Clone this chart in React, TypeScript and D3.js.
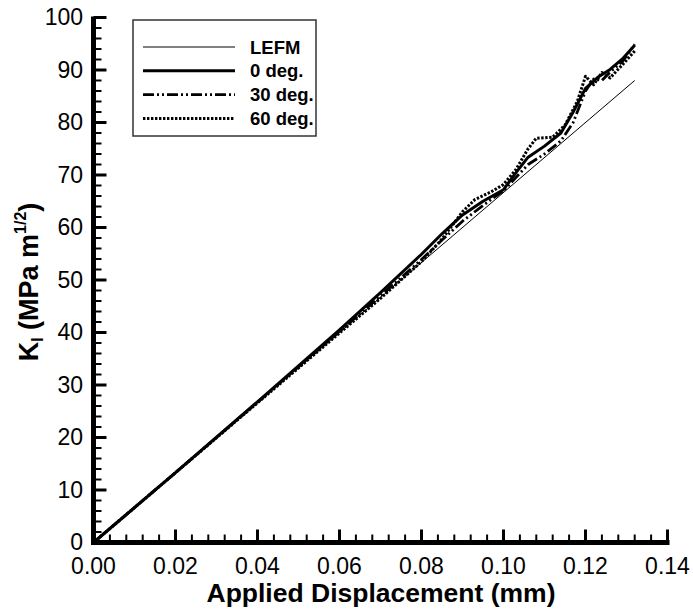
import React from "react";
import * as d3 from "d3";

const W = 693;
const H = 613;

const xTicks = [0, 0.02, 0.04, 0.06, 0.08, 0.1, 0.12, 0.14];
const xTickLabels = ["0.00", "0.02", "0.04", "0.06", "0.08", "0.10", "0.12", "0.14"];
const yTicks = [0, 10, 20, 30, 40, 50, 60, 70, 80, 90, 100];

const lefm: [number, number][] = [
  [0, 0],
  [0.132, 88],
];

const deg0: [number, number][] = [
  [0, 0], [0.02, 13.3], [0.04, 26.8], [0.06, 40.5], [0.07, 47.6], [0.08, 54.9],
  [0.085, 58.8], [0.09, 62.4], [0.095, 65], [0.1, 67.2], [0.103, 70.4],
  [0.106, 73.4], [0.11, 75.5], [0.114, 78], [0.117, 82], [0.12, 86.5],
  [0.123, 88.6], [0.126, 90.1], [0.129, 92.1], [0.132, 94.7],
];

const deg30: [number, number][] = [
  [0, 0], [0.02, 13.3], [0.04, 26.7], [0.06, 40.2], [0.07, 47], [0.08, 53.9],
  [0.085, 57.6], [0.09, 61.2], [0.095, 64.2], [0.1, 67], [0.103, 69.5],
  [0.106, 72], [0.11, 74], [0.114, 76.5], [0.117, 80], [0.12, 86],
  [0.122, 88.3], [0.124, 88], [0.126, 89.6], [0.129, 91.6], [0.132, 94.9],
];

const deg60: [number, number][] = [
  [0, 0], [0.02, 13.3], [0.04, 26.6], [0.06, 39.9], [0.07, 46.5], [0.08, 53.5],
  [0.085, 57.8], [0.09, 63], [0.093, 65.3], [0.097, 66.8], [0.1, 68.2],
  [0.103, 71], [0.106, 75], [0.108, 77], [0.112, 77.2], [0.115, 79.5],
  [0.118, 84], [0.12, 88.8], [0.122, 87.2], [0.124, 89.5], [0.126, 88.5],
  [0.129, 91], [0.132, 93.6],
];

const legendLabels = ["LEFM", "0 deg.", "30 deg.", "60 deg."];

const FONT = "Liberation Sans, Arial, Helvetica, sans-serif";

export default function App() {
  const x = d3.scaleLinear().domain([0, 0.14]).range([93.5, 667.5]);
  const y = d3.scaleLinear().domain([0, 100]).range([542.5, 17.5]);
  const line = d3
    .line<[number, number]>()
    .x((d) => x(d[0]))
    .y((d) => y(d[1]));

  const xMinor = d3.range(0, 0.1401, 0.004).filter((v) => Math.abs(v / 0.02 - Math.round(v / 0.02)) > 1e-6);
  const yMinor = d3.range(0, 100.01, 2).filter((v) => v % 10 !== 0);

  const series = [
    { data: lefm, width: 1, dash: undefined as string | undefined },
    { data: deg0, width: 3, dash: undefined },
    { data: deg30, width: 2.8, dash: "11,3,2,3,2,3" },
    { data: deg60, width: 3, dash: "2.4,1.6" },
  ];

  const legX1 = 143;
  const legX2 = 235;
  const legRow0 = 47;
  const legStep = 23.8;

  return (
    <svg
      width={W}
      height={H}
      style={{ position: "absolute", left: 0, top: 0, background: "#fff" }}
      fontFamily={FONT}
    >
      <rect x={0} y={0} width={W} height={H} fill="#fff" />

      {/* data lines */}
      {series.map((s, i) => (
        <path
          key={i}
          d={line(s.data) || ""}
          fill="none"
          stroke="#000"
          strokeWidth={s.width}
          strokeDasharray={s.dash}
          strokeLinejoin="round"
        />
      ))}

      {/* minor ticks */}
      {xMinor.map((v, i) => (
        <line key={"xm" + i} x1={x(v)} x2={x(v)} y1={y(0)} y2={y(0) - 8} stroke="#000" strokeWidth={2} />
      ))}
      {yMinor.map((v, i) => (
        <line key={"ym" + i} x1={x(0)} x2={x(0) + 8} y1={y(v)} y2={y(v)} stroke="#000" strokeWidth={2} />
      ))}
      {/* major ticks */}
      {xTicks.map((v, i) => (
        <line key={"xM" + i} x1={x(v)} x2={x(v)} y1={y(0)} y2={y(0) - 13} stroke="#000" strokeWidth={3} />
      ))}
      {yTicks.map((v, i) => (
        <line key={"yM" + i} x1={x(0)} x2={x(0) + 13} y1={y(v)} y2={y(v)} stroke="#000" strokeWidth={3} />
      ))}

      {/* axes */}
      <line x1={x(0)} x2={x(0.14) + 2} y1={y(0)} y2={y(0)} stroke="#000" strokeWidth={5} />
      <line x1={x(0)} x2={x(0)} y1={y(0) + 2.5} y2={y(100) - 1} stroke="#000" strokeWidth={5} />

      {/* tick labels */}
      {xTicks.map((v, i) => (
        <text key={"xl" + i} x={x(v)} y={574} fontSize={23} textAnchor="middle" fill="#000">
          {xTickLabels[i]}
        </text>
      ))}
      {yTicks.map((v, i) => (
        <text key={"yl" + i} x={83} y={y(v) + 7.5} fontSize={23} textAnchor="end" fill="#000">
          {v}
        </text>
      ))}

      {/* axis titles */}
      <text x={381} y={602} fontSize={26.5} fontWeight="bold" textAnchor="middle" fill="#000">
        Applied Displacement (mm)
      </text>
      <text transform="translate(38,282) rotate(-90)" fontSize={27} fontWeight="bold" textAnchor="middle" fill="#000">
        K<tspan fontSize={16} dy={5}>I</tspan>
        <tspan dy={-5}> (MPa m</tspan>
        <tspan fontSize={16} dy={-12}>1/2</tspan>
        <tspan dy={12}>)</tspan>
      </text>

      {/* legend */}
      <rect x={133} y={20} width={183} height={116} fill="#fff" stroke="#333" strokeWidth={1.5} />
      {series.map((s, i) => (
        <g key={"lg" + i}>
          <line
            x1={legX1}
            x2={legX2}
            y1={legRow0 + i * legStep}
            y2={legRow0 + i * legStep}
            stroke="#000"
            strokeWidth={s.width}
            strokeDasharray={s.dash}
          />
          <text x={250} y={legRow0 + i * legStep + 6.5} fontSize={18.5} fontWeight="bold" fill="#000">
            {legendLabels[i]}
          </text>
        </g>
      ))}
    </svg>
  );
}
